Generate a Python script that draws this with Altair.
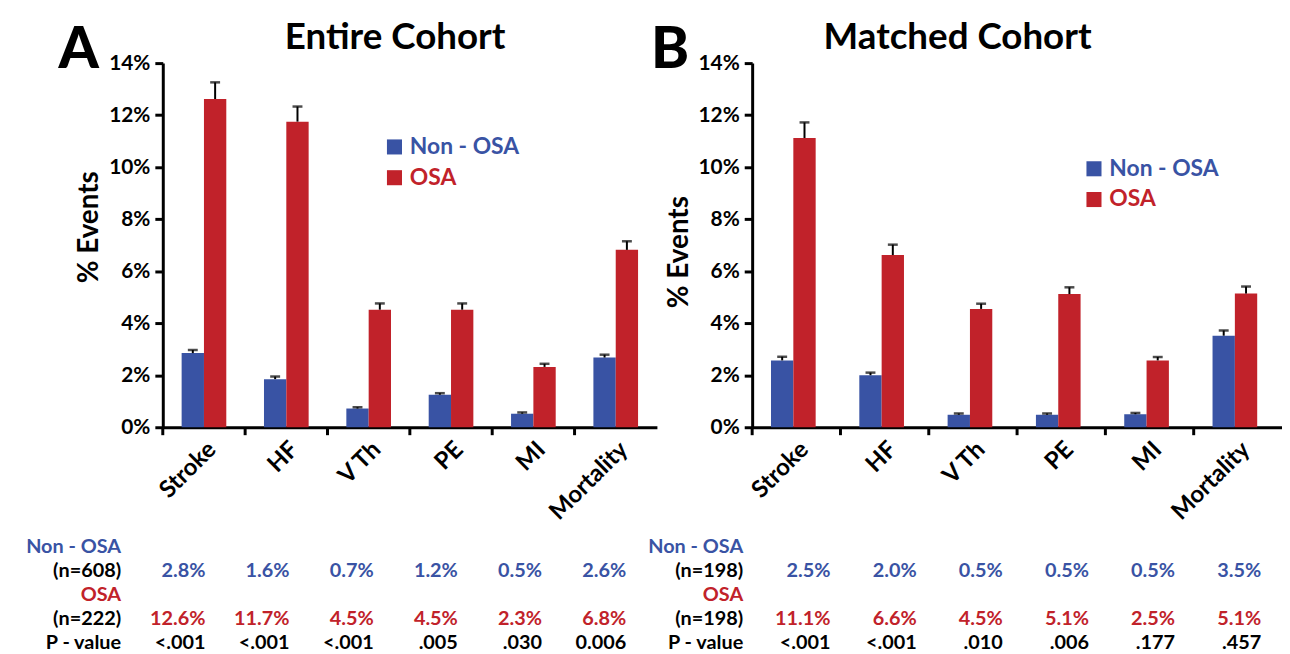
import altair as alt
import pandas as pd

# ---------------- data ----------------
cats = ["Stroke", "HF", "V Th", "PE", "MI", "Mortality"]
groups = ["Non - OSA", "OSA"]

a_non = [2.85, 1.85, 0.72, 1.25, 0.52, 2.68]
a_osa = [12.62, 11.75, 4.52, 4.52, 2.32, 6.82]
a_non_err = [0.12, 0.10, 0.05, 0.06, 0.05, 0.11]
a_osa_err = [0.64, 0.58, 0.24, 0.24, 0.12, 0.33]

b_non = [2.57, 2.0, 0.48, 0.48, 0.5, 3.52]
b_osa = [11.12, 6.62, 4.55, 5.12, 2.57, 5.14]
b_non_err = [0.14, 0.1, 0.05, 0.05, 0.05, 0.2]
b_osa_err = [0.6, 0.4, 0.2, 0.26, 0.13, 0.27]

a_non_txt = ["2.8%", "1.6%", "0.7%", "1.2%", "0.5%", "2.6%"]
a_osa_txt = ["12.6%", "11.7%", "4.5%", "4.5%", "2.3%", "6.8%"]
a_p_txt = ["<.001", "<.001", "<.001", ".005", ".030", "0.006"]
b_non_txt = ["2.5%", "2.0%", "0.5%", "0.5%", "0.5%", "3.5%"]
b_osa_txt = ["11.1%", "6.6%", "4.5%", "5.1%", "2.5%", "5.1%"]
b_p_txt = ["<.001", "<.001", ".010", ".006", ".177", ".457"]

a_n = ["(n=608)", "(n=222)"]
b_n = ["(n=198)", "(n=198)"]
row_keys = ["lab1", "non", "lab2", "osa", "p"]
y_ticks = [0, 2, 4, 6, 8, 10, 12, 14]

BLUE = "#3953a4"
RED = "#c1222a"
FONT = "Lato"
H = 367


def panel(non, osa, non_err, osa_err, non_txt, osa_txt, p_txt, ns, title, letter,
          W, pad_outer, title_dx, letter_dx, legend_x, legend_y, ytitle_y,
          tab_range, lab_x):
    rows = []
    for c, v, e in zip(cats, non, non_err):
        rows.append(dict(cat=c, grp=groups[0], val=v, top=v + e))
    for c, v, e in zip(cats, osa, osa_err):
        rows.append(dict(cat=c, grp=groups[1], val=v, top=v + e))
    df = pd.DataFrame(rows)
    df_cats = pd.DataFrame({"cat": cats})

    xscale = alt.Scale(domain=cats, paddingInner=0, paddingOuter=0)
    xaxis = alt.Axis(ticks=False, domainWidth=3, domainColor="black", labelAngle=-45,
                     labelFont=FONT, labelFontWeight="bold", labelFontSize=24,
                     labelColor="black", labelPadding=10, title=None)
    X = alt.X("cat:N", sort=cats, scale=xscale, axis=xaxis)
    XO = alt.XOffset("grp:N", sort=groups,
                     scale=alt.Scale(domain=groups, paddingInner=0, paddingOuter=pad_outer))
    yaxis = alt.Axis(values=y_ticks, labelExpr="datum.value + '%'", tickSize=8, tickWidth=3,
                     tickColor="black", domainWidth=3, domainColor="black", grid=False,
                     labelFont=FONT, labelFontWeight="bold", labelFontSize=21,
                     labelColor="black", labelPadding=5, title="% Events",
                     titleFont=FONT, titleFontWeight="bold", titleFontSize=28,
                     titleColor="black", titlePadding=5, titleY=ytitle_y)
    yscale = alt.Scale(domain=[0, 14], nice=False)

    bars = alt.Chart(df).mark_bar().encode(
        x=X, xOffset=XO,
        y=alt.Y("val:Q", scale=yscale, axis=yaxis),
        color=alt.Color("grp:N", sort=groups,
                        scale=alt.Scale(domain=groups, range=[BLUE, RED]),
                        legend=alt.Legend(title=None, orient="none", legendX=legend_x,
                                          legendY=legend_y, symbolType="square",
                                          symbolSize=230, symbolStrokeWidth=0,
                                          labelFont=FONT, labelFontSize=23,
                                          labelFontWeight="bold",
                                          labelColor={"expr": "datum.label == 'OSA' ? '%s' : '%s'" % (RED, BLUE)},
                                          rowPadding=7, labelOffset=4)),
    )
    err = alt.Chart(df).mark_rule(color="black", strokeWidth=2).encode(
        x=X, xOffset=XO, y=alt.Y("val:Q", scale=yscale, axis=yaxis), y2="top:Q")
    caps = alt.Chart(df).mark_tick(color="black", thickness=2.5, size=10).encode(
        x=X, xOffset=XO, y=alt.Y("top:Q", scale=yscale, axis=yaxis))
    ticks = alt.Chart(df_cats).mark_rule(color="black", strokeWidth=3).encode(
        x=alt.X("cat:N", sort=cats, scale=xscale, axis=xaxis, bandPosition=0),
        y=alt.value(H), y2=alt.value(H + 8))
    ttl = alt.Chart(pd.DataFrame({"t": [title]})).mark_text(
        align="left", baseline="alphabetic", font=FONT, fontWeight="bold", fontSize=37,
        color="black").encode(text="t:N", x=alt.value(title_dx), y=alt.value(-14))
    let = alt.Chart(pd.DataFrame({"t": [letter]})).mark_text(
        align="left", baseline="alphabetic", font=FONT, fontWeight=900, fontSize=58,
        color="black").encode(text="t:N", x=alt.value(letter_dx), y=alt.value(5))
    main = alt.layer(bars, err, caps, ticks, ttl, let)

    rscale = alt.Scale(type="point", domain=row_keys, range=[488, 584], padding=0)
    tx = alt.X("cat:N", sort=cats,
               scale=alt.Scale(type="point", domain=cats, range=tab_range, padding=0),
               axis=None)
    tlayers = []
    for key, txts, col in (("non", non_txt, BLUE), ("osa", osa_txt, RED), ("p", p_txt, "black")):
        d = pd.DataFrame({"cat": cats, "row": [key] * len(cats), "t": txts})
        tlayers.append(alt.Chart(d).mark_text(
            align="right", baseline="middle", font=FONT, fontWeight="bold",
            fontSize=20, color=col).encode(
            x=tx, y=alt.Y("row:N", scale=rscale, axis=None), text="t:N"))
    labels = [("lab1", "Non - OSA", BLUE, 20), ("non", ns[0], "black", 20),
              ("lab2", "OSA", RED, 20), ("osa", ns[1], "black", 20),
              ("p", "P - value", "black", 20)]
    for key, txt, col, size in labels:
        d = pd.DataFrame({"row": [key], "t": [txt]})
        tlayers.append(alt.Chart(d).mark_text(
            align="right", baseline="middle", font=FONT, fontWeight="bold",
            fontSize=size, color=col).encode(
            x=alt.value(lab_x), y=alt.Y("row:N", scale=rscale, axis=None), text="t:N"))
    table = alt.layer(*tlayers)

    return alt.layer(main, table).resolve_scale(x="independent", y="independent").properties(
        width=W, height=H)


pA = panel(a_non, a_osa, a_non_err, a_osa_err, a_non_txt, a_osa_txt, a_p_txt, a_n,
           "Entire Cohort", "A", 498, 0.844, 123, -105, 222, 73, 165, [43, 467], -42)
pB = panel(b_non, b_osa, b_non_err, b_osa_err, b_non_txt, b_osa_txt, b_p_txt, b_n,
           "Matched Cohort", "B", 534, 0.78, 72, -102, 333, 95, 190, [79, 513], -9)

chart = alt.hconcat(pA, pB, spacing=96, bounds="flush").resolve_scale(
    color="independent").resolve_legend(color="independent").configure_view(
    stroke=None).properties(padding={"left": 18, "top": 9, "right": 0, "bottom": 0},
                            background="white")

chart.save("out.html", embed_options={"renderer": "svg", "actions": False})
